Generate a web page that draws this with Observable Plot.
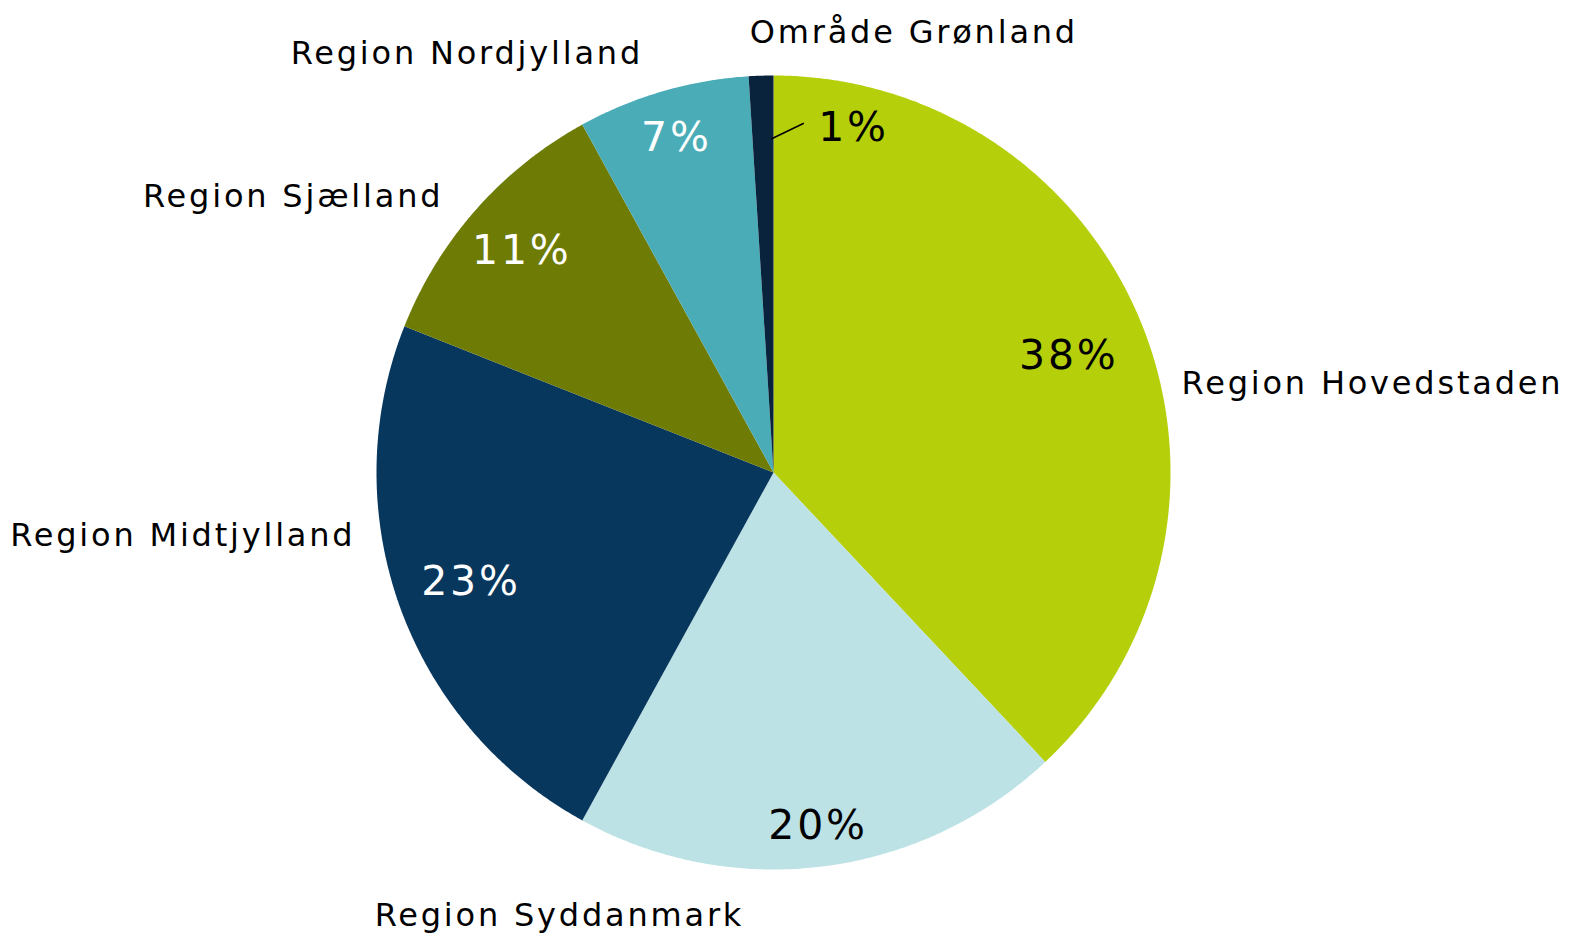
<!DOCTYPE html>
<html>
<head>
<meta charset="utf-8">
<script src="https://cdn.jsdelivr.net/npm/d3@7"></script>
<script src="https://cdn.jsdelivr.net/npm/@observablehq/plot@0.6"></script>
<style>
  html, body { margin: 0; padding: 0; background: #fff; }
  #chart svg { display: block; overflow: visible; }
  #chart svg text { letter-spacing: 2.8px; }
</style>
</head>
<body>
<div id="chart"></div>
<script>
// ---- data ----
const regions = ["Region Hovedstaden", "Region Syddanmark", "Region Midtjylland", "Region Sjælland", "Region Nordjylland", "Område Grønland"];
const shares = [38, 20, 23, 11, 7, 1];
const pctLabels = ["38%", "20%", "23%", "11%", "7%", "1%"];

// ---- style / layout ----
const colors = ["#b5cf0b", "#bde2e5", "#08375e", "#6e7b05", "#4aacb6", "#0a233c"];
const pctColors = ["#000", "#000", "#fff", "#fff", "#fff", "#000"];
// inside label radius (fraction of pie radius), placed at slice mid-angle
const pctRadius = [0.80, 0.896, 0.81, 0.845, 0.877, 0.892];
// angle override for the small slice label (degrees clockwise from top), null = mid-angle
const pctAngle = [null, null, null, null, null, 13.05];
// outside name labels, polar: [angle deg, radius fraction, anchor]
const namePolar = [
  [77.7, 1.052, "start"],
  [205.8, 1.239, "middle"],
  [261.4, 1.065, "end"],
  [309.9, 1.084, "end"],
  [323.8, 1.308, "middle"],
  [17.7, 1.163, "middle"]
];
// leader line for the small slice: [angle, radius] -> [angle, radius]
const leader = {from: [359.6, 0.84], to: [4.96, 0.883]};

const font = "DejaVu Sans, Verdana, sans-serif";
const deg = Math.PI / 180;
const polar = (aDeg, r) => ({x: r * Math.sin(aDeg * deg), y: r * Math.cos(aDeg * deg)});

const arcs = d3.pie().sort(null).value(d => d)(shares);

// slice outlines in data space (unit circle)
const slicePts = [];
arcs.forEach((a, i) => {
  const n = Math.max(2, Math.ceil((a.endAngle - a.startAngle) / (0.4 * deg)));
  slicePts.push({name: regions[i], x: 0, y: 0});
  for (let k = 0; k <= n; k++) {
    const t = a.startAngle + (a.endAngle - a.startAngle) * k / n;
    slicePts.push({name: regions[i], x: Math.sin(t), y: Math.cos(t)});
  }
  slicePts.push({name: regions[i], x: 0, y: 0});
});

const pctData = arcs.map((a, i) => {
  const mid = pctAngle[i] != null ? pctAngle[i] : ((a.startAngle + a.endAngle) / 2) / deg;
  const p = polar(mid, pctRadius[i]);
  return {label: pctLabels[i], color: pctColors[i], ...p};
});

const nameData = regions.map((r, i) => {
  const p = polar(namePolar[i][0], namePolar[i][1]);
  return {label: r, anchor: namePolar[i][2], ...p};
});

const lf = polar(...leader.from), lt = polar(...leader.to);
const leaderData = [{x1: lf.x, y1: lf.y, x2: lt.x, y2: lt.y}];

const nameMarks = ["start", "middle", "end"].map(anchor =>
  Plot.text(nameData.filter(d => d.anchor === anchor), {
    x: "x", y: "y", text: "label", textAnchor: anchor,
    fontSize: 32, fill: "#000", fontFamily: font
  })
);

const chart = Plot.plot({
  width: 1569,
  height: 940,
  x: {domain: [-1, 1], range: [376, 1170], axis: null},
  y: {domain: [-1, 1], range: [869, 75], axis: null},
  color: {domain: regions, range: colors},
  style: {background: "#fff", fontFamily: font},
  marks: [
    Plot.line(slicePts, {x: "x", y: "y", z: "name", fill: "name", stroke: "none", curve: "linear"}),
    Plot.link(leaderData, {x1: "x1", y1: "y1", x2: "x2", y2: "y2", stroke: "#000", strokeWidth: 1.5}),
    Plot.text(pctData, {x: "x", y: "y", text: "label", fill: d => d.color, fontSize: 41, fontFamily: font}),
    ...nameMarks
  ]
});
document.getElementById("chart").appendChild(chart);
</script>
</body>
</html>
